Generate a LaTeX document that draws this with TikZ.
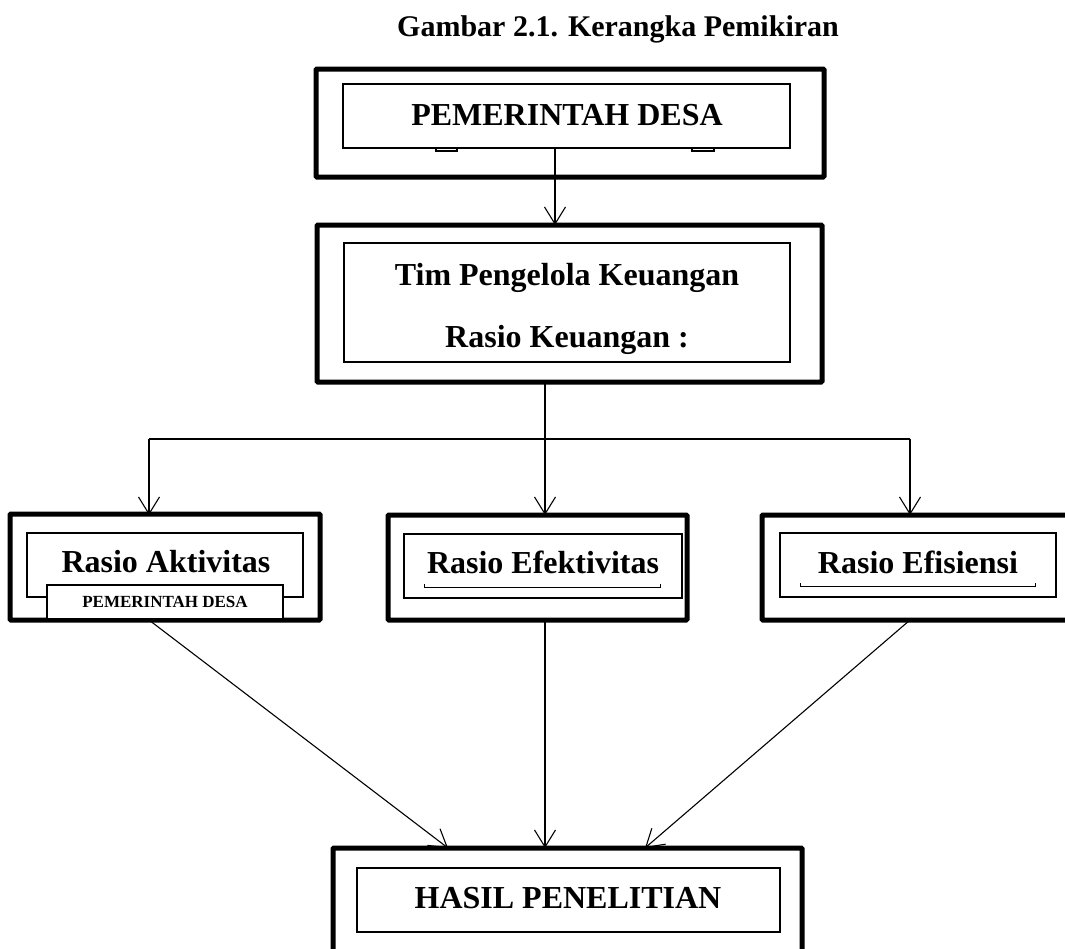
\documentclass[tikz,border=0pt]{standalone}
\usepackage{fontspec}
\setmainfont{Liberation Serif}
\usetikzlibrary{arrows.meta}
\begin{document}
\begin{tikzpicture}[x=1pt,y=-1pt,
  outerbox/.style={draw,line width=5pt,rounded corners=1pt,inner sep=0pt},
  innerbox/.style={draw,line width=1.1pt,fill=white,inner sep=0pt},
  bigtxt/.style={font=\fontsize{32}{38}\selectfont\bfseries,anchor=base,inner sep=0pt},
  conn/.style={line width=1.1pt,-{Straight Barb[length=17pt,width=21pt]}},
  plain/.style={line width=1.1pt}]
\useasboundingbox (0,0) rectangle (1065,948);
\clip (0,0) rectangle (1065,948);
% title
\node[font=\fontsize{30}{36}\selectfont\bfseries,anchor=base,inner sep=0pt] (title) at (618,36) {Gambar 2.1. Kerangka Pemikiran};
% box 1
\node[outerbox,minimum width=508pt,minimum height=108pt] (b1) at (570,123) {};
\node[innerbox,minimum width=447pt,minimum height=64pt] (b1i) at (566.5,116) {};
\draw[plain] (436,148) rectangle (457,151);
\draw[plain] (692,148) rectangle (714,151);
\node[bigtxt] (t1) at (567,125) {PEMERINTAH DESA};
% box 2
\node[outerbox,minimum width=505pt,minimum height=157pt] (b2) at (569.5,303.5) {};
\node[innerbox,minimum width=446pt,minimum height=119pt] (b2i) at (567,302.5) {};
\node[bigtxt] (t2a) at (567,285) {Tim Pengelola Keuangan};
\node[bigtxt] (t2b) at (567,347) {Rasio Keuangan :};
% bottom row
\node[outerbox,minimum width=310pt,minimum height=106pt] (bl) at (165,567) {};
\node[innerbox,minimum width=276pt,minimum height=64pt] (bli) at (165,565) {};
\node[bigtxt] (tl) at (166,572) {Rasio Aktivitas};
\node[innerbox,minimum width=236pt,minimum height=34pt] (bls) at (165,602) {};
\node[font=\fontsize{17}{20}\selectfont\bfseries,anchor=base,inner sep=0pt] (tls) at (165,607) {PEMERINTAH DESA};

\node[outerbox,minimum width=299pt,minimum height=105pt] (bm) at (537.5,567.5) {};
\node[innerbox,minimum width=278pt,minimum height=64pt] (bmi) at (543,566) {};
\node[bigtxt] (tm) at (543,573) {Rasio Efektivitas};
\draw[line width=0.9pt] (424,584) -- (424,587) -- (660,587) -- (660,584);

\node[outerbox,minimum width=313pt,minimum height=105pt] (br) at (918.5,567.5) {};
\node[innerbox,minimum width=276pt,minimum height=64pt] (bri) at (918,565) {};
\node[bigtxt] (tr) at (918,573) {Rasio Efisiensi};
\draw[line width=0.9pt] (800,583) -- (800,586) -- (1035,586) -- (1035,583);

% bottom box
\node[outerbox,minimum width=469pt,minimum height=112pt] (bh) at (567.5,904) {};
\node[innerbox,minimum width=423pt,minimum height=64pt] (bhi) at (568.5,900) {};
\node[bigtxt] (th) at (568,908) {HASIL PENELITIAN};

% connectors
\coordinate (c1s) at (555,148);
\coordinate (c1e) at (555,225);
\coordinate (c2s) at (545,382);
\coordinate (jm) at (545,439);
\coordinate (jl) at (149,439);
\coordinate (jr) at (910,439);
\coordinate (el) at (149,515);
\coordinate (em) at (545,515);
\coordinate (er) at (910,515);
\coordinate (sl) at (149,620);
\coordinate (sm) at (545,620);
\coordinate (sr) at (910,620);
\coordinate (hl) at (448,848);
\coordinate (hm) at (545,848);
\coordinate (hr) at (645,848);
\draw[conn] (c1s) -- (c1e);
\draw[plain] (c2s) -- (jm);
\draw[plain] (jl) -- (jr);
\draw[conn] (jl) -- (el);
\draw[conn] (jm) -- (em);
\draw[conn] (jr) -- (er);
\draw[conn] (sl) -- (hl);
\draw[conn] (sm) -- (hm);
\draw[conn] (sr) -- (hr);
\end{tikzpicture}
\end{document}
